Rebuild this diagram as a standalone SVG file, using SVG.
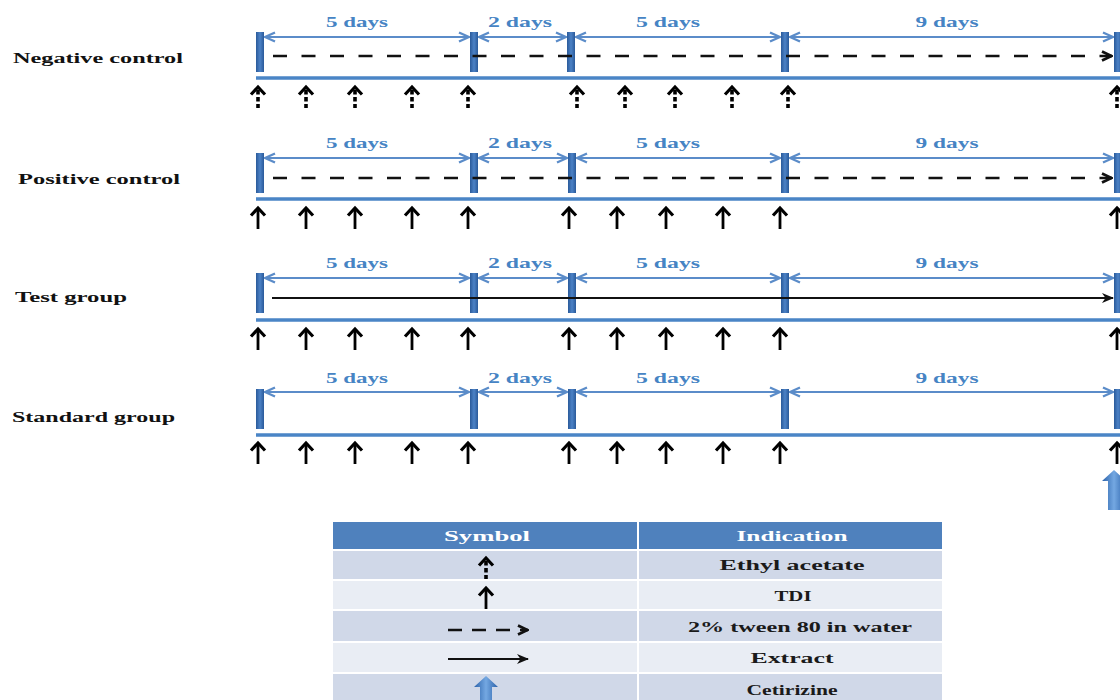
<svg xmlns="http://www.w3.org/2000/svg" width="1120" height="700" viewBox="0 0 1120 700">
<style>
.lbl{font-family:"Liberation Serif","Times New Roman",serif;font-weight:bold;font-size:15px;fill:#111}
.day{font-family:"Liberation Serif","Times New Roman",serif;font-weight:bold;font-size:14px;fill:#4684c4;text-anchor:middle}
.base{stroke:#4a85c6;stroke-width:3.5}
.span{stroke:#5b8cc9;stroke-width:2.2;fill:none}
.dash{stroke:#111;stroke-width:2.6;stroke-dasharray:14 14.5;fill:none}
.sol{stroke:#111;stroke-width:2;fill:none}
.bar{fill:url(#barG)}
.th{font-family:"Liberation Serif","Times New Roman",serif;font-weight:bold;font-size:14px;fill:#fff;text-anchor:middle}
.td{font-family:"Liberation Serif","Times New Roman",serif;font-weight:bold;font-size:14px;fill:#1a1a1a;text-anchor:middle}
</style>
<defs>
<linearGradient id="barG" x1="0" x2="1" y1="0" y2="0"><stop offset="0" stop-color="#2a5a9a"/><stop offset="0.5" stop-color="#4c82c6"/><stop offset="1" stop-color="#2a5a9a"/></linearGradient>
<linearGradient id="cetG" x1="0" x2="1" y1="0" y2="0"><stop offset="0" stop-color="#2b62aa"/><stop offset="0.5" stop-color="#74a8e2"/><stop offset="1" stop-color="#2b62aa"/></linearGradient>
<marker id="bh" viewBox="0 0 12 12" refX="11" refY="6" markerWidth="12" markerHeight="12" markerUnits="userSpaceOnUse" orient="auto-start-reverse"><path d="M1,1.5 L11,6 L1,10.5" fill="none" stroke="#5b8cc9" stroke-width="2.4"/></marker>
<marker id="chev" viewBox="0 0 12 12" refX="11" refY="6" markerWidth="12" markerHeight="12" markerUnits="userSpaceOnUse" orient="auto"><path d="M1,1.5 L10.5,6 L1,10.5" fill="none" stroke="#111" stroke-width="2.8"/></marker>
<marker id="tri" viewBox="0 0 12 12" refX="11" refY="6" markerWidth="12" markerHeight="12" markerUnits="userSpaceOnUse" orient="auto"><path d="M0,1 L12,6 L0,11 L3.5,6 Z" fill="#111"/></marker>
<g id="ua"><path d="M0,3 V23" stroke="#000" stroke-width="2.8"/><path d="M-7,9.5 L0,2 L7,9.5" fill="none" stroke="#000" stroke-width="3.2"/></g>
<g id="uad"><path d="M0,5 V23" stroke="#000" stroke-width="3.6" stroke-dasharray="4.5 2.5"/><path d="M-7,9.5 L0,2 L7,9.5" fill="none" stroke="#000" stroke-width="3.2"/></g>
<path id="cet" d="M0,0 L12,11 L6,11 L6,40 L-6,40 L-6,11 L-12,11 Z"/>
</defs>

<g id="labels">
<text class="lbl" x="13" y="63" textLength="170" lengthAdjust="spacingAndGlyphs">Negative control</text>
<text class="lbl" x="18" y="184" textLength="162" lengthAdjust="spacingAndGlyphs">Positive control</text>
<text class="lbl" x="15" y="302" textLength="112" lengthAdjust="spacingAndGlyphs">Test group</text>
<text class="lbl" x="12" y="422" textLength="163" lengthAdjust="spacingAndGlyphs">Standard group</text>
</g>

<g id="row-negative">
<line class="base" x1="256" y1="78" x2="1120" y2="78"/>
<rect class="bar" x="256" y="32" width="8" height="40"/>
<rect class="bar" x="470" y="32" width="8" height="40"/>
<rect class="bar" x="567" y="32" width="8" height="40"/>
<rect class="bar" x="781" y="32" width="8" height="40"/>
<rect class="bar" x="1114" y="32" width="8" height="40"/>
<text class="day" x="357" y="27" textLength="62" lengthAdjust="spacingAndGlyphs">5 days</text>
<text class="day" x="520" y="27" textLength="64" lengthAdjust="spacingAndGlyphs">2 days</text>
<text class="day" x="668" y="27" textLength="64" lengthAdjust="spacingAndGlyphs">5 days</text>
<text class="day" x="947" y="27" textLength="63" lengthAdjust="spacingAndGlyphs">9 days</text>
<use href="#uad" x="258" y="85"/><use href="#uad" x="306" y="85"/><use href="#uad" x="355" y="85"/><use href="#uad" x="412" y="85"/><use href="#uad" x="468" y="85"/>
<use href="#uad" x="577" y="85"/><use href="#uad" x="625" y="85"/><use href="#uad" x="675" y="85"/><use href="#uad" x="732" y="85"/><use href="#uad" x="788" y="85"/><use href="#uad" x="1117" y="85"/>
</g>

<g id="row-positive">
<line class="base" x1="256" y1="199" x2="1120" y2="199"/>
<rect class="bar" x="256" y="153" width="8" height="40"/>
<rect class="bar" x="470" y="153" width="8" height="40"/>
<rect class="bar" x="568" y="153" width="8" height="40"/>
<rect class="bar" x="781" y="153" width="8" height="40"/>
<rect class="bar" x="1114" y="153" width="8" height="40"/>
<text class="day" x="357" y="148" textLength="62" lengthAdjust="spacingAndGlyphs">5 days</text>
<text class="day" x="520" y="148" textLength="64" lengthAdjust="spacingAndGlyphs">2 days</text>
<text class="day" x="668" y="148" textLength="64" lengthAdjust="spacingAndGlyphs">5 days</text>
<text class="day" x="947" y="148" textLength="63" lengthAdjust="spacingAndGlyphs">9 days</text>
<use href="#ua" x="258" y="206"/><use href="#ua" x="306" y="206"/><use href="#ua" x="355" y="206"/><use href="#ua" x="412" y="206"/><use href="#ua" x="468" y="206"/>
<use href="#ua" x="569" y="206"/><use href="#ua" x="617" y="206"/><use href="#ua" x="666" y="206"/><use href="#ua" x="723" y="206"/><use href="#ua" x="780" y="206"/><use href="#ua" x="1117" y="206"/>
</g>

<g id="row-test">
<line class="base" x1="256" y1="320" x2="1120" y2="320"/>
<rect class="bar" x="256" y="273" width="8" height="40"/>
<rect class="bar" x="470" y="273" width="8" height="40"/>
<rect class="bar" x="568" y="273" width="8" height="40"/>
<rect class="bar" x="781" y="273" width="8" height="40"/>
<rect class="bar" x="1114" y="273" width="8" height="40"/>
<text class="day" x="357" y="268" textLength="62" lengthAdjust="spacingAndGlyphs">5 days</text>
<text class="day" x="520" y="268" textLength="64" lengthAdjust="spacingAndGlyphs">2 days</text>
<text class="day" x="668" y="268" textLength="64" lengthAdjust="spacingAndGlyphs">5 days</text>
<text class="day" x="947" y="268" textLength="63" lengthAdjust="spacingAndGlyphs">9 days</text>
<use href="#ua" x="258" y="327"/><use href="#ua" x="306" y="327"/><use href="#ua" x="355" y="327"/><use href="#ua" x="412" y="327"/><use href="#ua" x="468" y="327"/>
<use href="#ua" x="569" y="327"/><use href="#ua" x="617" y="327"/><use href="#ua" x="666" y="327"/><use href="#ua" x="723" y="327"/><use href="#ua" x="780" y="327"/><use href="#ua" x="1117" y="327"/>
</g>

<g id="row-standard">
<line class="base" x1="256" y1="435" x2="1120" y2="435"/>
<rect class="bar" x="256" y="389" width="8" height="40"/>
<rect class="bar" x="470" y="389" width="8" height="40"/>
<rect class="bar" x="568" y="389" width="8" height="40"/>
<rect class="bar" x="781" y="389" width="8" height="40"/>
<rect class="bar" x="1114" y="389" width="8" height="40"/>
<text class="day" x="357" y="383" textLength="62" lengthAdjust="spacingAndGlyphs">5 days</text>
<text class="day" x="520" y="383" textLength="64" lengthAdjust="spacingAndGlyphs">2 days</text>
<text class="day" x="668" y="383" textLength="64" lengthAdjust="spacingAndGlyphs">5 days</text>
<text class="day" x="947" y="383" textLength="63" lengthAdjust="spacingAndGlyphs">9 days</text>
<use href="#ua" x="258" y="441"/><use href="#ua" x="306" y="441"/><use href="#ua" x="355" y="441"/><use href="#ua" x="412" y="441"/><use href="#ua" x="468" y="441"/>
<use href="#ua" x="569" y="441"/><use href="#ua" x="617" y="441"/><use href="#ua" x="666" y="441"/><use href="#ua" x="723" y="441"/><use href="#ua" x="780" y="441"/><use href="#ua" x="1117" y="441"/>
<use href="#cet" x="1114" y="470" fill="url(#cetG)"/>
</g>

<g id="connectors">
<line class="span" x1="265" y1="37" x2="469" y2="37" marker-start="url(#bh)" marker-end="url(#bh)"/>
<line class="span" x1="479" y1="37" x2="566" y2="37" marker-start="url(#bh)" marker-end="url(#bh)"/>
<line class="span" x1="576" y1="37" x2="780" y2="37" marker-start="url(#bh)" marker-end="url(#bh)"/>
<line class="span" x1="790" y1="37" x2="1113" y2="37" marker-start="url(#bh)" marker-end="url(#bh)"/>
<line class="dash" x1="273" y1="56" x2="1112" y2="56" marker-end="url(#chev)"/>

<line class="span" x1="265" y1="158" x2="469" y2="158" marker-start="url(#bh)" marker-end="url(#bh)"/>
<line class="span" x1="479" y1="158" x2="567" y2="158" marker-start="url(#bh)" marker-end="url(#bh)"/>
<line class="span" x1="577" y1="158" x2="780" y2="158" marker-start="url(#bh)" marker-end="url(#bh)"/>
<line class="span" x1="790" y1="158" x2="1113" y2="158" marker-start="url(#bh)" marker-end="url(#bh)"/>
<line class="dash" x1="273" y1="178" x2="1112" y2="178" marker-end="url(#chev)"/>

<line class="span" x1="265" y1="278" x2="469" y2="278" marker-start="url(#bh)" marker-end="url(#bh)"/>
<line class="span" x1="479" y1="278" x2="567" y2="278" marker-start="url(#bh)" marker-end="url(#bh)"/>
<line class="span" x1="577" y1="278" x2="780" y2="278" marker-start="url(#bh)" marker-end="url(#bh)"/>
<line class="span" x1="790" y1="278" x2="1113" y2="278" marker-start="url(#bh)" marker-end="url(#bh)"/>
<line class="sol" x1="272" y1="298" x2="1113" y2="298" marker-end="url(#tri)"/>

<line class="span" x1="265" y1="392" x2="469" y2="392" marker-start="url(#bh)" marker-end="url(#bh)"/>
<line class="span" x1="479" y1="392" x2="567" y2="392" marker-start="url(#bh)" marker-end="url(#bh)"/>
<line class="span" x1="577" y1="392" x2="780" y2="392" marker-start="url(#bh)" marker-end="url(#bh)"/>
<line class="span" x1="790" y1="392" x2="1113" y2="392" marker-start="url(#bh)" marker-end="url(#bh)"/>
</g>

<g id="legend">
<rect x="333" y="522" width="609" height="28" fill="#4f81bd"/>
<rect x="333" y="550" width="609" height="30" fill="#d0d8e8"/>
<rect x="333" y="580" width="609" height="30" fill="#e9edf4"/>
<rect x="333" y="610" width="609" height="32" fill="#d0d8e8"/>
<rect x="333" y="642" width="609" height="31" fill="#e9edf4"/>
<rect x="333" y="673" width="609" height="27" fill="#d0d8e8"/>
<path d="M333,550 H942 M333,580 H942 M333,610 H942 M333,642 H942 M333,673 H942 M638,522 V700" stroke="#fff" stroke-width="2"/>
<text class="th" x="487" y="541" textLength="86" lengthAdjust="spacingAndGlyphs">Symbol</text>
<text class="th" x="792" y="541" textLength="111" lengthAdjust="spacingAndGlyphs">Indication</text>
<text class="td" x="792" y="570" textLength="145" lengthAdjust="spacingAndGlyphs">Ethyl acetate</text>
<text class="td" x="793" y="601" textLength="37" lengthAdjust="spacingAndGlyphs">TDI</text>
<text class="td" x="800" y="632" textLength="224" lengthAdjust="spacingAndGlyphs">2% tween 80 in water</text>
<text class="td" x="792" y="663" textLength="83" lengthAdjust="spacingAndGlyphs">Extract</text>
<text class="td" x="792" y="695" textLength="91" lengthAdjust="spacingAndGlyphs">Cetirizine</text>
<use href="#uad" x="486" y="556"/>
<use href="#ua" x="486" y="586"/>
<line class="dash" x1="448" y1="630" x2="528" y2="630" style="stroke-dasharray:14 10" marker-end="url(#chev)"/>
<line class="sol" x1="448" y1="659" x2="528" y2="659" marker-end="url(#tri)"/>
<use href="#cet" x="486" y="676" fill="url(#cetG)"/>
</g>
</svg>
